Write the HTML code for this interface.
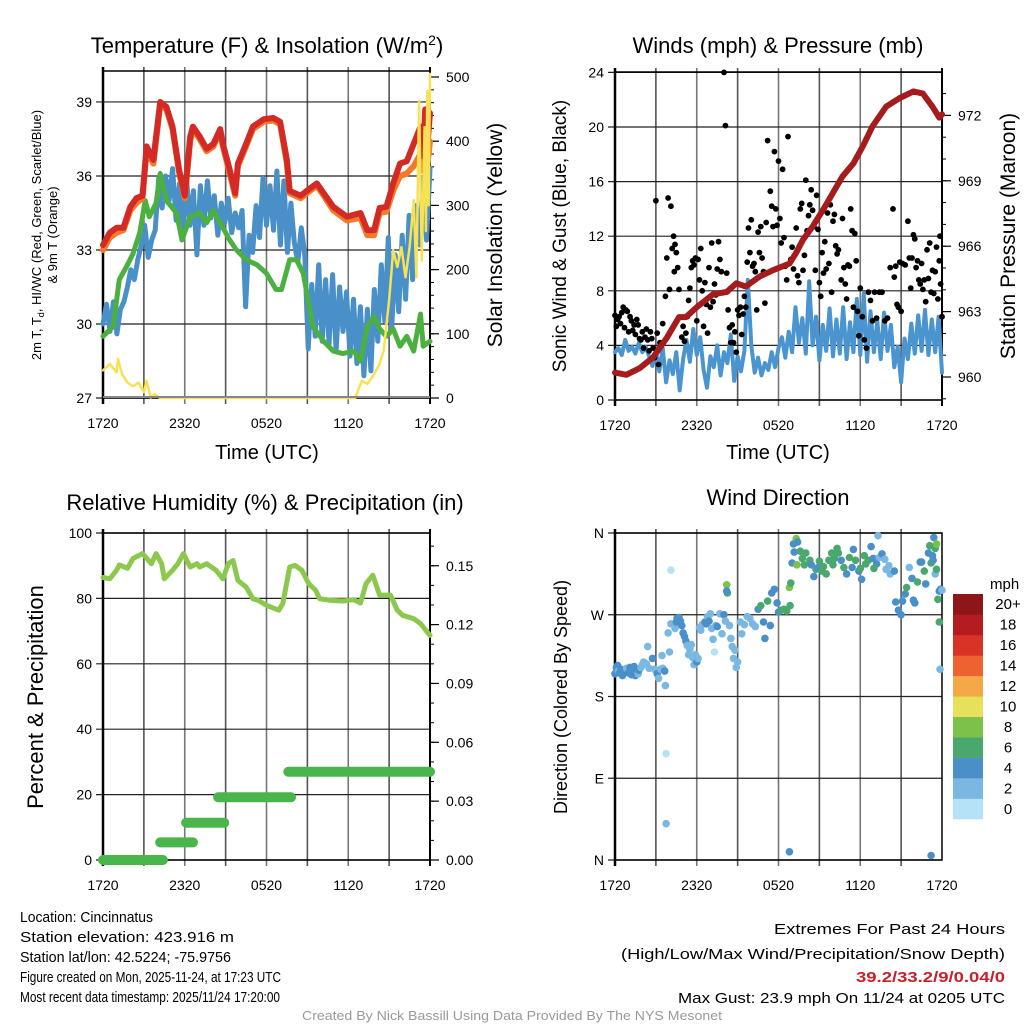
<!DOCTYPE html>
<html><head><meta charset="utf-8"><style>
html,body{margin:0;padding:0;background:#fff}
svg{display:block;font-family:"Liberation Sans",Arial,sans-serif}
</style></head><body>
<svg id="chart" width="1024" height="1024" viewBox="0 0 1024 1024" xmlns="http://www.w3.org/2000/svg">
<rect x="0" y="0" width="1024" height="1024" fill="#fff"/>
<g id="g1"></g>
<g id="g2"></g>
<g id="g3"></g>
<g id="g4"></g>
<g font-size="22" text-anchor="middle" fill="#000">
<text x="267" y="53">Temperature (F) &amp; Insolation (W/m<tspan dy="-8" font-size="14">2</tspan><tspan dy="8">)</tspan></text>
<text x="778" y="53">Winds (mph) &amp; Pressure (mb)</text>
<text x="265" y="510">Relative Humidity (%) &amp; Precipitation (in)</text>
<text x="778" y="505">Wind Direction</text>
</g>
<g fill="#000" text-anchor="middle">
<text transform="translate(41,235) rotate(-90)" font-size="13">2m T, T<tspan font-size="9" dy="3">d</tspan><tspan dy="-3">, HI/WC (Red, Green, Scarlet/Blue)</tspan></text>
<text transform="translate(57,235) rotate(-90)" font-size="13">&amp; 9m T (Orange)</text>
<text transform="translate(502,235) rotate(-90)" font-size="21">Solar Insolation (Yellow)</text>
<text x="267" y="459" font-size="20">Time (UTC)</text>
<text transform="translate(566,236) rotate(-90)" font-size="19">Sonic Wind &amp; Gust (Blue, Black)</text>
<text transform="translate(1015,236) rotate(-90)" font-size="21">Station Pressure (Maroon)</text>
<text x="778" y="459" font-size="20">Time (UTC)</text>
<text transform="translate(43,697) rotate(-90)" font-size="22">Percent &amp; Precipitation</text>
<text transform="translate(567,697) rotate(-90)" font-size="18">Direction (Colored By Speed)</text>
</g>
<g font-size="15" fill="#000">
<text x="20" y="922" textLength="133" lengthAdjust="spacingAndGlyphs">Location: Cincinnatus</text>
<text x="20" y="942" textLength="214" lengthAdjust="spacingAndGlyphs">Station elevation: 423.916 m</text>
<text x="20" y="962" textLength="211" lengthAdjust="spacingAndGlyphs">Station lat/lon: 42.5224; -75.9756</text>
<text x="20" y="982" textLength="261" lengthAdjust="spacingAndGlyphs">Figure created on Mon, 2025-11-24, at 17:23 UTC</text>
<text x="20" y="1002" textLength="260" lengthAdjust="spacingAndGlyphs">Most recent data timestamp: 2025/11/24 17:20:00</text>
<text x="774" y="934" textLength="231" lengthAdjust="spacingAndGlyphs">Extremes For Past 24 Hours</text>
<text x="621" y="959" textLength="384" lengthAdjust="spacingAndGlyphs">(High/Low/Max Wind/Precipitation/Snow Depth)</text>
<text x="856" y="982" textLength="149" lengthAdjust="spacingAndGlyphs" fill="#c8202a" font-weight="bold">39.2/33.2/9/0.04/0</text>
<text x="678" y="1003" textLength="327" lengthAdjust="spacingAndGlyphs">Max Gust: 23.9 mph On 11/24 at 0205 UTC</text>
<text x="302" y="1020" textLength="420" lengthAdjust="spacingAndGlyphs" font-size="13" fill="#999">Created By Nick Bassill Using Data Provided By The NYS Mesonet</text>
</g>
</svg>
<script>
// ---------- data ----------
const xTickLabels = ["1720","2320","0520","1120","1720"];
const tempTicks = [27,30,33,36,39];
const solTicks = [0,100,200,300,400,500];
const redT = [0,0.5,1,1.5,2,2.45,2.9,3.2,3.7,3.9,4.2,4.65,5.1,5.6,6.0,6.4,6.6,7.1,7.6,8.1,8.6,8.8,9.3,9.7,9.9,10.5,11.0,11.8,12.5,13.0,13.5,13.7,14.5,15.2,15.7,16.2,16.9,17.9,18.9,19.4,19.9,20.3,20.8,21.3,21.8,22.3,22.8,23.3,23.5,23.65,23.8,24];
const redV = [33.2,33.7,33.9,33.9,34.75,35.1,35.2,37.2,36.65,37.6,39.0,38.8,38.0,36.2,35.2,37.6,38.0,37.6,37.1,37.3,37.9,37.3,36.25,35.3,36.5,37.3,38.0,38.3,38.35,38.2,36.65,35.4,35.2,35.5,35.7,35.3,34.75,34.35,34.5,33.8,33.8,34.7,34.75,35.7,36.5,36.6,37.3,38.0,36.8,38.7,37.2,38.55];
const orangeV = [33.0,33.5,33.7,33.8,34.6,34.9,35.1,37.0,36.5,37.4,38.9,38.7,37.9,36.1,35.1,37.4,37.9,37.5,37.0,37.2,37.8,37.2,36.1,35.2,36.4,37.2,37.9,38.2,38.25,38.1,36.5,35.3,35.1,35.4,35.6,35.2,34.6,34.2,34.3,33.6,33.6,34.5,34.55,35.4,36.0,36.1,36.4,36.9,36.2,37.6,36.4,37.4];
const greenT = [0,0.75,1.2,1.7,2.2,2.7,3.1,3.4,3.9,4.2,4.65,5.4,5.8,6.4,7.1,7.6,8.1,8.6,9.3,9.8,10.5,11.3,12.0,12.7,13.1,13.7,14.2,14.7,15.4,16.2,16.9,17.6,18.4,18.9,19.4,19.9,20.3,20.8,21.3,21.8,22.3,22.8,23.3,23.5,24];
const greenV = [29.5,29.9,31.8,32.3,32.85,33.7,35.0,34.35,34.9,36.1,35.0,34.5,33.4,34.35,34.5,34.1,34.6,34.1,33.4,33.0,32.6,32.4,32.05,31.4,31.4,32.6,32.6,32.05,29.9,29.3,28.9,28.8,28.9,28.5,29.9,30.3,29.8,29.5,29.8,29.1,29.5,28.9,30.4,29.1,29.3];
const blueV = [30.0,30.8,29.7,30.9,29.6,30.6,30.9,31.5,32.2,31.8,32.6,33.2,34.0,32.7,33.4,33.8,35.9,34.7,36.0,35.0,36.3,34.2,35.7,33.6,35.9,34.0,35.4,32.8,35.6,34.0,35.8,34.3,35.2,33.6,34.9,34.1,35.1,33.7,34.5,33.9,34.6,30.7,33.6,32.9,34.8,33.5,35.9,34.0,35.6,33.8,36.2,33.2,35.8,32.9,34.9,33.3,32.5,33.9,32.8,29.0,31.6,29.5,32.4,29.3,31.8,29.2,32.0,28.9,31.5,29.7,31.3,28.7,31.0,28.4,30.7,27.9,30.6,28.1,31.4,29.3,32.4,30.1,33.5,29.8,32.8,30.5,33.6,31.0,34.4,31.8,34.8,33.2,35.9,33.4,36.3];
const solT = [0,0.5,1,1.1,1.4,1.8,2.2,2.6,3,3.2,3.5,3.8,4.2,18.5,19,19.4,19.9,20.3,20.6,21,21.3,21.6,21.9,22.2,22.5,22.8,23,23.2,23.4,23.6,23.7,23.8,23.9,24];
const solV = [43,53,40,61,37,24,18,24,9,27,1,6,0,0,27,22,37,53,74,152,230,204,235,188,235,308,188,463,214,422,260,478,300,505];

const windTicks = [0,4,8,12,16,20,24];
const presTicks = [960,963,966,969,972];
const windV = [3.5,3.8,3.3,4.4,3.6,3.9,3.4,4.2,3.5,3.9,3.2,2.5,3.6,2.1,3.8,1.3,2.9,1.9,3.5,0.7,3.0,4.4,2.8,5.2,3.3,4.6,2.2,0.9,3.2,2.4,4.0,1.8,3.5,2.7,4.8,1.4,3.2,2.1,3.6,8.8,4.0,2.0,3.1,1.8,2.7,2.2,3.5,2.4,3.8,4.6,3.1,5.0,3.5,6.8,4.2,6.0,3.4,8.7,4.0,6.1,2.9,5.5,3.6,6.7,3.2,5.9,3.4,6.8,3.0,5.7,3.5,7.4,3.3,7.8,2.8,6.5,3.5,5.8,3.0,6.4,3.6,5.5,2.4,3.9,1.3,4.5,3.0,5.6,3.4,6.2,3.6,6.6,3.3,5.9,3.5,6.1,2.0];
const presT = [0,0.83,1.8,2.8,3.8,4.7,5.2,6.0,7.2,8.2,8.9,9.6,10.6,11.6,12.8,13.3,13.8,14.5,15.3,16.0,16.7,17.5,18.2,18.9,19.9,20.9,21.9,22.6,23.3,23.8,24];
const presV = [960.2,960.1,960.4,960.9,961.8,962.75,962.75,963.2,963.8,963.9,964.3,964.15,964.6,964.9,965.2,965.7,966.3,966.9,967.7,968.45,969.2,969.8,970.6,971.5,972.4,972.8,973.1,973.0,972.4,971.9,972.05];
const gustT = [0,0.1,0.2,0.3,0.4,0.5,0.6,0.7,0.8,0.9,1.0,1.1,1.2,1.3,1.4,1.5,1.6,1.7,1.8,1.9,2.0,2.1,2.2,2.3,2.4,2.5,2.6,2.7,2.8,2.9,3.0,3.1,3.2,3.3,3.5,3.7,3.8,3.9,4.0,4.1,4.2,4.3,4.35,4.4,4.5,4.6,4.7,4.9,5.0,5.1,5.2,5.3,5.4,5.5,5.6,5.7,5.8,5.9,6.0,6.1,6.2,6.3,6.4,6.5,6.6,6.7,6.8,6.9,7.0,7.1,7.2,7.3,7.4,7.5,7.6,7.7,7.8,8.0,8.1,8.2,8.3,8.4,8.5,8.6,8.7,8.8,8.9,9.0,9.1,9.2,9.3,9.4,9.5,9.6,9.7,9.8,9.9,10.0,10.1,10.2,10.3,10.4,10.5,10.6,10.7,10.8,10.9,11.0,11.1,11.2,11.4,11.5,11.6,11.7,11.8,11.9,12.0,12.1,12.2,12.3,12.4,12.5,12.6,12.7,12.8,12.9,13.0,13.1,13.3,13.4,13.5,13.6,13.7,13.8,13.9,14.0,14.1,14.2,14.3,14.4,14.5,14.6,14.7,14.8,14.9,15.0,15.1,15.2,15.3,15.4,15.5,15.6,15.7,15.8,15.9,16.0,16.1,16.2,16.3,16.4,16.5,16.6,16.7,16.8,16.9,17.0,17.1,17.2,17.3,17.4,17.5,17.6,17.7,17.8,17.9,18.0,18.15,18.3,18.45,18.6,18.75,18.9,19.05,19.2,19.4,19.6,19.8,20.0,20.2,20.4,20.5,20.6,20.7,20.8,20.9,21.0,21.1,21.3,21.5,21.6,21.7,21.8,21.9,22.0,22.1,22.2,22.3,22.4,22.5,22.6,22.7,22.8,22.9,23.0,23.1,23.2,23.3,23.4,23.5,23.6,23.7,23.8,23.85,23.9,24];
const gustV = [6.2,5.4,5.9,6.1,5.6,6.4,6.8,5.3,6.6,6.5,5.0,6.1,5.8,5.1,5.5,4.8,5.9,5.5,4.5,4.4,5.0,3.8,4.6,5.2,4.4,3.6,5.0,4.5,3.8,3.1,14.6,4.9,2.6,4.2,5.6,7.6,10.4,14.8,8.1,14.2,11.1,12.0,9.4,11.4,10.8,9.7,8.1,4.6,5.4,4.3,4.9,6.1,7.3,8.2,9.7,10.2,9.9,10.4,5.8,10.3,8.8,11.1,8.0,5.4,8.6,7.0,4.9,9.7,6.8,11.5,7.2,8.5,7.7,9.6,11.6,10.3,9.4,24.0,20.1,9.3,6.6,5.3,4.2,5.5,4.2,5.0,3.5,6.6,6.2,6.8,4.8,6.3,7.6,6.8,10.1,12.6,10.8,13.2,9.8,10.0,9.4,6.6,12.3,10.8,12.7,10.4,9.4,7.1,13.0,19.0,15.3,14.2,12.7,18.2,14.0,12.8,17.5,13.3,11.5,16.9,11.9,9.8,8.8,19.3,10.0,10.3,11.2,9.6,12.6,9.1,8.6,14.0,14.4,9.5,10.6,16.1,12.4,13.5,14.3,15.4,13.9,12.7,9.5,15.0,12.5,8.6,7.6,10.8,9.3,11.6,9.6,13.7,10.0,14.3,7.9,13.1,13.6,11.3,10.7,11.0,16.0,8.8,13.3,9.7,8.5,7.4,9.9,9.8,14.0,12.4,6.8,12.2,10.2,6.5,4.7,8.2,6.1,4.4,3.8,7.9,7.3,5.8,7.9,6.0,7.9,7.9,5.8,6.0,9.7,14.0,9.0,9.8,7.0,6.8,10.1,6.5,10.0,9.9,13.1,10.4,8.2,10.4,12.1,11.8,9.7,10.2,8.8,8.5,10.0,8.1,8.8,7.2,11.0,8.9,11.5,7.9,9.5,7.8,9.4,11.2,7.4,10.2,12.0,8.5,6.1];

const rhTicks = [0,20,40,60,80,100];
const precipTicks = ["0.00","0.03","0.06","0.09","0.12","0.15"];
const rhT = [0,0.5,1.0,1.2,1.8,2.2,2.9,3.55,3.9,4.3,4.5,5.1,5.5,5.9,6.4,6.9,7.1,7.6,8.3,8.8,9.2,9.55,9.9,10.5,11.0,11.4,12.0,12.9,13.2,13.7,14.1,14.6,15.1,15.6,15.9,16.7,17.6,18.4,18.9,19.3,19.8,20.3,21.1,21.6,22.0,22.8,23.3,24];
const rhV = [86.4,86.0,88.6,90.2,89.2,92.2,93.7,90.6,93.7,90.6,86.0,88.6,90.6,93.7,89.6,90.6,89.6,90.6,88.6,86.0,90.6,91.6,85.5,83.5,79.9,79.4,77.9,76.4,78.4,89.6,90.1,88.6,84.5,82.5,79.9,79.4,79.2,79.6,78.6,84.5,87.1,81.0,81.0,76.4,74.8,73.8,72.3,68.7];
const precipStart = [0,4.2,6.1,8.45,13.6];
const precipEnd = [4.4,6.6,8.9,13.8,24];
const precipV = [0.0,0.009,0.019,0.032,0.045];

const dirLabels = ["N","E","S","W","N"];
const dirTicks = [0,90,180,270,360];
const speedLabels = ["0","2","4","6","8","10","12","14","16","18","20+"];
const speedColors = ["#b5e2f7","#7ab8e2","#4a8fc7","#4aa86e","#7cc24a","#e6e05a","#f5a847","#ee6130","#d93327","#b51c22","#8e1518"];
const dirT = [0,0.1,0.2,0.25,0.35,0.45,0.55,0.65,0.75,0.85,1.0,1.1,1.2,1.3,1.4,1.5,1.7,1.75,1.9,2.0,2.1,2.3,2.5,2.4,2.75,2.9,3.1,3.2,3.35,3.5,3.7,3.45,3.65,3.9,4.0,4.1,3.75,3.75,4.1,4.4,4.5,4.55,4.7,4.8,4.9,5.0,5.1,5.2,5.3,5.4,5.5,5.6,5.7,5.8,5.9,6.0,6.1,6.2,6.3,6.4,6.6,6.7,6.8,6.9,7.0,7.1,7.2,7.3,7.4,7.5,7.7,7.85,8.0,8.1,8.2,8.25,8.2,8.4,8.5,8.6,8.7,8.8,8.9,9.0,9.2,9.3,9.5,9.7,9.9,10.1,10.3,10.5,10.7,10.9,11.0,11.2,11.4,11.5,11.7,11.9,12.0,12.2,12.4,12.6,12.8,12.85,12.9,13.0,13.1,13.15,13.3,13.4,13.35,13.6,13.75,13.9,14.0,14.3,14.4,14.6,14.75,14.9,15.0,15.2,15.3,15.5,15.7,15.9,16.0,16.1,16.3,16.4,16.6,16.8,17.0,17.2,17.4,17.5,17.65,17.9,18.0,18.1,18.3,18.4,18.6,18.8,18.95,19.2,19.0,19.3,19.4,19.6,19.8,19.9,20.1,20.2,20.5,20.6,20.8,21.0,21.1,21.3,21.4,21.6,21.8,21.9,22.0,22.2,22.4,22.5,22.7,22.8,23.0,23.1,23.2,23.3,23.35,23.5,23.6,23.7,23.8,23.8,23.85,23.9,24,23.2,12.8,23.5,23.4,23.6];
const dirV = [205,212,214,208,206,210,203,209,207,211,206,212,204,210,213,203,205,209,212,215,218,216,211,235,222,210,205,200,210,211,192,225,208,250,229,260,117,40,319,255,262,266,267,263,258,250,246,241,236,226,232,237,223,215,226,218,222,256,253,259,262,260,268,263,271,255,243,229,258,257,271,249,270,263,303,294,296,258,244,235,222,231,212,218,262,249,259,268,266,260,257,276,280,262,244,285,258,294,298,283,273,275,276,274,300,280,305,327,348,339,354,350,325,340,332,325,338,330,325,312,320,322,329,318,323,315,330,338,325,332,343,338,330,322,315,333,322,342,330,318,321,309,335,326,330,345,332,326,321,357,333,337,331,320,324,315,318,284,275,270,285,293,300,322,310,286,283,306,328,328,318,304,338,346,327,335,330,315,320,287,296,262,210,298,297,5,9,343,355,348];
const dirS = [4,4,4,3,4,4,4,4,4,3,4,4,4,4,4,4,3,4,3,3,3,3,3,3,4,3,4,3,3,3,3,3,4,3,3,3,1,2,1,3,4,4,5,4,5,4,4,4,3,3,3,3,3,3,3,4,3,3,3,3,4,4,3,4,3,3,3,1,3,4,3,3,4,3,8,7,4,3,3,3,3,3,3,3,3,3,3,3,3,3,3,4,6,4,4,7,4,4,4,4,5,6,7,6,8,6,6,4,4,4,8,4,8,6,7,6,6,6,5,4,6,4,6,6,6,6,7,7,6,6,6,6,5,6,4,6,4,4,6,5,6,4,6,6,6,4,4,4,6,3,2,4,3,3,3,3,4,4,4,4,4,5,6,3,4,4,4,6,4,4,6,4,5,6,6,4,4,3,6,6,4,6,3,4,3,4,4,7,4,8];

// ---------- helpers ----------
const NS = "http://www.w3.org/2000/svg";
function mk(parent, tag, attrs, text) {
  const e = document.createElementNS(NS, tag);
  for (const k in attrs) e.setAttribute(k, attrs[k]);
  if (text !== undefined) e.textContent = text;
  parent.appendChild(e);
  return e;
}
function frame(g, L, T, R, B, hTicksY, leftLabels, xName) {
  for (let i = 1; i < 8; i++) {
    const x = L + (R - L) * i / 8;
    const ln = mk(g, "line", {x1:x, y1:T-4, x2:x, y2:B+6, stroke: i%2 ? "#555" : "#777", "stroke-width":1.6});
    
    
  }
  hTicksY.forEach((y, i) => {
    const ln = mk(g, "line", {x1:L-7, y1:y, x2:R, y2:y, stroke:"#222", "stroke-width":1.2});
    
    
    const t = mk(g, "text", {x:L-11, y:y+5, "font-size":14, "text-anchor":"end"}, leftLabels[i]);
    
    
  });
  const box = mk(g, "rect", {x:L, y:T, width:R-L, height:B-T, fill:"none", stroke:"#000", "stroke-width":1.5});
  
  
  mk(g, "line", {x1:L, y1:T-4, x2:L, y2:B+6, stroke:"#000", "stroke-width":2.5});
  xTickLabels.forEach((lab, i) => {
    const x = L + (R - L) * i / 4;
    const t = mk(g, "text", {x:x, y:B+30, "font-size":14, "text-anchor":"middle"}, lab);
    
    
  });
}
function rightAxis(g, R, T, B, ticks, labels, minorStep, scale, lo, hi) {
  mk(g, "line", {x1:R, y1:T-4, x2:R, y2:B+6, stroke:"#000", "stroke-width":2});
  for (let v = lo; v <= hi + 1e-9; v += minorStep) {
    const y = scale(v);
    if (y < T - 1) continue;
    mk(g, "line", {x1:R, y1:y, x2:R+4, y2:y, stroke:"#000", "stroke-width":1});
  }
  ticks.forEach((v, i) => {
    const y = scale(v);
    mk(g, "line", {x1:R, y1:y, x2:R+9, y2:y, stroke:"#000", "stroke-width":1.2});
    const t = mk(g, "text", {x:R+16, y:y+5, "font-size":14}, labels[i]);
    
    
  });
}
function pathOf(ts, vs, xf, yf) {
  return ts.map((t, i) => (i ? "L" : "M") + xf(t).toFixed(1) + "," + yf(vs[i]).toFixed(1)).join("");
}
function seriesLine(g, ts, vs, xf, yf, color, w, name) {
  const p = mk(g, "path", {d: pathOf(ts, vs, xf, yf), fill:"none", stroke:color, "stroke-width":w, "stroke-linejoin":"round", "stroke-linecap":"round"});
  
  
  return p;
}
function evenT(arr) { return arr.map((_, i) => i * 24 / (arr.length - 1)); }

// ---------- panel 1 ----------
(function(){
  const g = document.getElementById("g1");
  const L=103, T=71, R=430, B=398;
  const x = h => L + h / 24 * (R - L);
  const y = t => B - (t - 27) * 24.67;
  const ys = w => B - w * 0.642;
  frame(g, L, T, R, B, tempTicks.map(y), tempTicks.map(String), "temperature-x-tick-label");
  rightAxis(g, R, T, B, solTicks, solTicks.map(String), 20, ys, 0, 520);
  seriesLine(g, evenT(blueV), blueV, x, y, "#4a90c8", 5, "heat-index-wind-chill-line");
  seriesLine(g, greenT, greenV, x, y, "#4cb040", 5, "dewpoint-line");
  seriesLine(g, redT, orangeV, x, y, "#f47a2a", 6, "9m-temperature-line");
  seriesLine(g, redT, redV, x, y, "#d42a26", 6, "2m-temperature-line");
  seriesLine(g, solT, solV, x, ys, "#f9e154", 2.5, "solar-insolation-line");
  mk(g, "line", {x1:L, y1:B-1, x2:R, y2:B-1, stroke:"#888", "stroke-width":2});
})();

// ---------- panel 2 ----------
(function(){
  const g = document.getElementById("g2");
  const L=615, T=72, R=942, B=400;
  const x = h => L + h / 24 * (R - L);
  const y = v => B - v * 13.65;
  const yp = p => 377 - (p - 960) * 21.8;
  frame(g, L, T, R, B, windTicks.map(y), windTicks.map(String), "wind-x-tick-label");
  rightAxis(g, R, T, B, presTicks, presTicks.map(String), 1, yp, 959, 973);
  seriesLine(g, evenT(windV), windV, x, y, "#4a94d0", 4, "sonic-wind-line");
  gustT.forEach((t, i) => {
    const c = mk(g, "circle", {cx:x(t).toFixed(1), cy:y(gustV[i]).toFixed(1), r:2.9, fill:"#000"});
    
    
  });
  seriesLine(g, presT, presV, x, yp, "#a51c1f", 6, "station-pressure-line");
})();

// ---------- panel 3 ----------
(function(){
  const g = document.getElementById("g3");
  const L=103, T=533, R=430, B=860;
  const x = h => L + h / 24 * (R - L);
  const y = v => B - v * 3.27;
  const yp = p => B - p / 0.1667 * (B - T);
  frame(g, L, T, R, B, rhTicks.map(y), rhTicks.map(String), "humidity-x-tick-label");
  rightAxis(g, R, T, B, precipTicks.map(Number), precipTicks, 0.01, yp, 0, 0.166);
  seriesLine(g, rhT, rhV, x, y, "#8cc84e", 5, "relative-humidity-line");
  precipV.forEach((p, i) => {
    const s = mk(g, "line", {x1:x(precipStart[i]), y1:yp(p), x2:x(precipEnd[i]), y2:yp(p), stroke:"#4ab54a", "stroke-width":10, "stroke-linecap":"round"});
    
    
  });
})();

// ---------- panel 4 ----------
(function(){
  const g = document.getElementById("g4");
  const L=615, T=533, R=942, B=860;
  const x = h => L + h / 24 * (R - L);
  const y = d => B - d * (B - T) / 360;
  frame(g, L, T, R, B, dirTicks.map(y), dirLabels, "direction-x-tick-label");
  dirT.forEach((t, i) => {
    const bin = Math.min(10, Math.floor(dirS[i] / 2));
    const c = mk(g, "circle", {cx:x(t).toFixed(1), cy:y(dirV[i]).toFixed(1), r:3.8, fill:speedColors[bin]});
    
    
  });
  const lt = mk(g, "text", {x:990, y:589, "font-size":15}, "mph");
  
  
  const h = (819 - 594) / 11;
  speedColors.forEach((c, i) => {
    const yy = 819 - (i + 1) * h;
    const r = mk(g, "rect", {x:953, y:yy, width:30, height:h + 0.3, fill:c});
    
    
    const t = mk(g, "text", {x:1008, y:yy + h/2 + 5, "font-size":15, "text-anchor":"middle"}, speedLabels[i]);
    
    
  });
})();
</script>
</body></html>
